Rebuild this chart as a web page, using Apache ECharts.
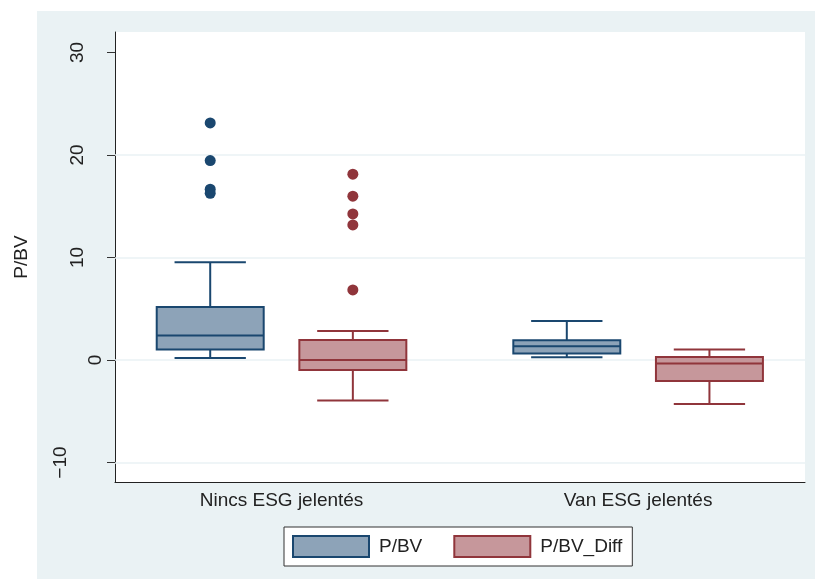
<!DOCTYPE html>
<html>
<head>
<meta charset="utf-8">
<script src="https://cdn.jsdelivr.net/npm/echarts@6/dist/echarts.min.js"></script>
<style>
html,body{margin:0;padding:0;background:#fff;}
#chart{width:815px;height:579px;}
</style>
</head>
<body>
<div id="chart"></div>
<script>
// ---- data ----
const categories = ['Nincs ESG jelentés', 'Van ESG jelentés'];
const seriesNames = ['P/BV', 'P/BV_Diff'];
// [lower whisker, Q1, median, Q3, upper whisker]
const pbvBox = [[0.20, 1.02, 2.39, 5.18, 9.54], [0.27, 0.63, 1.35, 1.93, 3.81]];
const pbvDiffBox = [[-3.95, -0.97, 0.01, 1.96, 2.84], [-4.28, -2.04, -0.34, 0.30, 1.02]];
const pbvOutliers = [[23.13, 19.46, 16.66, 16.27], []];
const pbvDiffOutliers = [[18.13, 15.98, 14.25, 13.18, 6.84], []];
const yTicks = [-10, 0, 10, 20, 30];
const yGrid = [-10, 0, 10, 20];

// ---- style ----
const BLUE = '#1a476f', BLUE_FILL = '#8da3b8';
const RED = '#90353b', RED_FILL = '#c6979b';
const BG = '#eaf2f4';
const FONT = '"Liberation Sans", Arial, sans-serif';
const OFFSETS = [-0.2, 0.2];
const BOX_W = 0.3, CAP_W = 0.2;

function makeRender(stroke, fill, offset) {
  return function (params, api) {
    const x = api.value(0) + offset;
    const lo = api.coord([x, api.value(1)]);
    const q1 = api.coord([x, api.value(2)]);
    const md = api.coord([x, api.value(3)]);
    const q3 = api.coord([x, api.value(4)]);
    const hi = api.coord([x, api.value(5)]);
    const hb = api.size([BOX_W, 0])[0] / 2;
    const hc = api.size([CAP_W, 0])[0] / 2;
    const cx = md[0];
    const ls = { stroke: stroke, lineWidth: 2 };
    return {
      type: 'group',
      children: [
        { type: 'line', shape: { x1: cx, y1: hi[1], x2: cx, y2: q3[1] }, style: ls },
        { type: 'line', shape: { x1: cx, y1: q1[1], x2: cx, y2: lo[1] }, style: ls },
        { type: 'line', shape: { x1: cx - hc, y1: hi[1], x2: cx + hc, y2: hi[1] }, style: ls },
        { type: 'line', shape: { x1: cx - hc, y1: lo[1], x2: cx + hc, y2: lo[1] }, style: ls },
        { type: 'rect', shape: { x: cx - hb, y: q3[1], width: 2 * hb, height: q1[1] - q3[1] }, style: { fill: fill, stroke: stroke, lineWidth: 2 } },
        { type: 'line', shape: { x1: cx - hb, y1: md[1], x2: cx + hb, y2: md[1] }, style: ls }
      ]
    };
  };
}

function boxData(arr) { return arr.map((b, i) => [i].concat(b)); }
function outlierData(arr, off) {
  const out = [];
  arr.forEach((vals, i) => vals.forEach(v => out.push([i + off, v])));
  return out;
}
function fmtY(v) {
  const s = v < 0 ? '\u2212' + Math.abs(v) : String(v);
  const k = v < 0 ? 'c' : (Math.abs(v) >= 10 ? 'b' : 'a');
  return '{' + k + '|' + s + '}';
}

const chart = echarts.init(document.getElementById('chart'), null, { renderer: 'canvas' });
chart.setOption({
  backgroundColor: '#ffffff',
  animation: false,
  textStyle: { fontFamily: FONT },
  graphic: [
    { type: 'rect', z: -100, silent: true, shape: { x: 37, y: 11, width: 778, height: 568 }, style: { fill: BG } }
  ],
  grid: { left: 115, right: 10, top: 32, bottom: 97, show: true, backgroundColor: '#ffffff', borderWidth: 0 },
  legend: {
    left: 284, top: 527,
    backgroundColor: '#ffffff', borderColor: '#333333', borderWidth: 1,
    padding: [8, 10, 8, 8],
    itemWidth: 76, itemHeight: 21, itemGap: 31,
    textStyle: { fontFamily: FONT, fontSize: 19, color: '#222', padding: [0, 0, 0, 5] },
    data: [
      { name: seriesNames[0], icon: 'rect', itemStyle: { color: BLUE_FILL, borderColor: BLUE, borderWidth: 2 } },
      { name: seriesNames[1], icon: 'rect', itemStyle: { color: RED_FILL, borderColor: RED, borderWidth: 2 } }
    ]
  },
  xAxis: {
    type: 'value', min: -0.467, max: 1.468,
    axisLine: { show: true, onZero: false, lineStyle: { color: '#222', width: 1 } },
    axisTick: { show: false },
    splitLine: { show: false },
    axisLabel: {
      customValues: [0, 1],
      formatter: v => categories[Math.round(v)],
      fontFamily: FONT, fontSize: 19, color: '#222', margin: 9
    }
  },
  yAxis: {
    type: 'value', min: -11.9, max: 32,
    name: 'P/BV', nameLocation: 'middle', nameGap: 84,
    nameTextStyle: { fontFamily: FONT, fontSize: 19, color: '#222' },
    axisLine: { show: true, onZero: false, lineStyle: { color: '#222', width: 1 } },
    axisTick: { show: true, length: 8, customValues: yTicks, lineStyle: { color: '#333' } },
    splitLine: { show: false },
    axisLabel: {
      customValues: yTicks, rotate: 90, margin: 10,
      formatter: fmtY,
      fontFamily: FONT, fontSize: 19, color: '#222',
      rich: {
        a: { fontFamily: FONT, fontSize: 19, color: '#222', padding: [0, 0, 0, 0] },
        b: { fontFamily: FONT, fontSize: 19, color: '#222', padding: [0, 0, 18, 0] },
        c: { fontFamily: FONT, fontSize: 19, color: '#222', padding: [0, 0, 35, 0] }
      }
    }
  },
  series: [
    {
      type: 'line', data: [], silent: true, z: 1,
      markLine: {
        z: 1,
        silent: true, symbol: 'none', label: { show: false },
        lineStyle: { color: BG, width: 1.5, type: 'solid' },
        data: yGrid.map(v => ({ yAxis: v }))
      }
    },
    {
      name: seriesNames[0], type: 'custom', z: 3,
      itemStyle: { color: BLUE_FILL, borderColor: BLUE },
      renderItem: makeRender(BLUE, BLUE_FILL, OFFSETS[0]),
      encode: { x: 0, y: [1, 2, 3, 4, 5] },
      data: boxData(pbvBox)
    },
    {
      name: seriesNames[1], type: 'custom', z: 3,
      itemStyle: { color: RED_FILL, borderColor: RED },
      renderItem: makeRender(RED, RED_FILL, OFFSETS[1]),
      encode: { x: 0, y: [1, 2, 3, 4, 5] },
      data: boxData(pbvDiffBox)
    },
    {
      name: seriesNames[0], type: 'scatter', z: 4, symbolSize: 11,
      itemStyle: { color: BLUE, opacity: 1 },
      data: outlierData(pbvOutliers, OFFSETS[0])
    },
    {
      name: seriesNames[1], type: 'scatter', z: 4, symbolSize: 11,
      itemStyle: { color: RED, opacity: 1 },
      data: outlierData(pbvDiffOutliers, OFFSETS[1])
    }
  ]
});
</script>
</body>
</html>
